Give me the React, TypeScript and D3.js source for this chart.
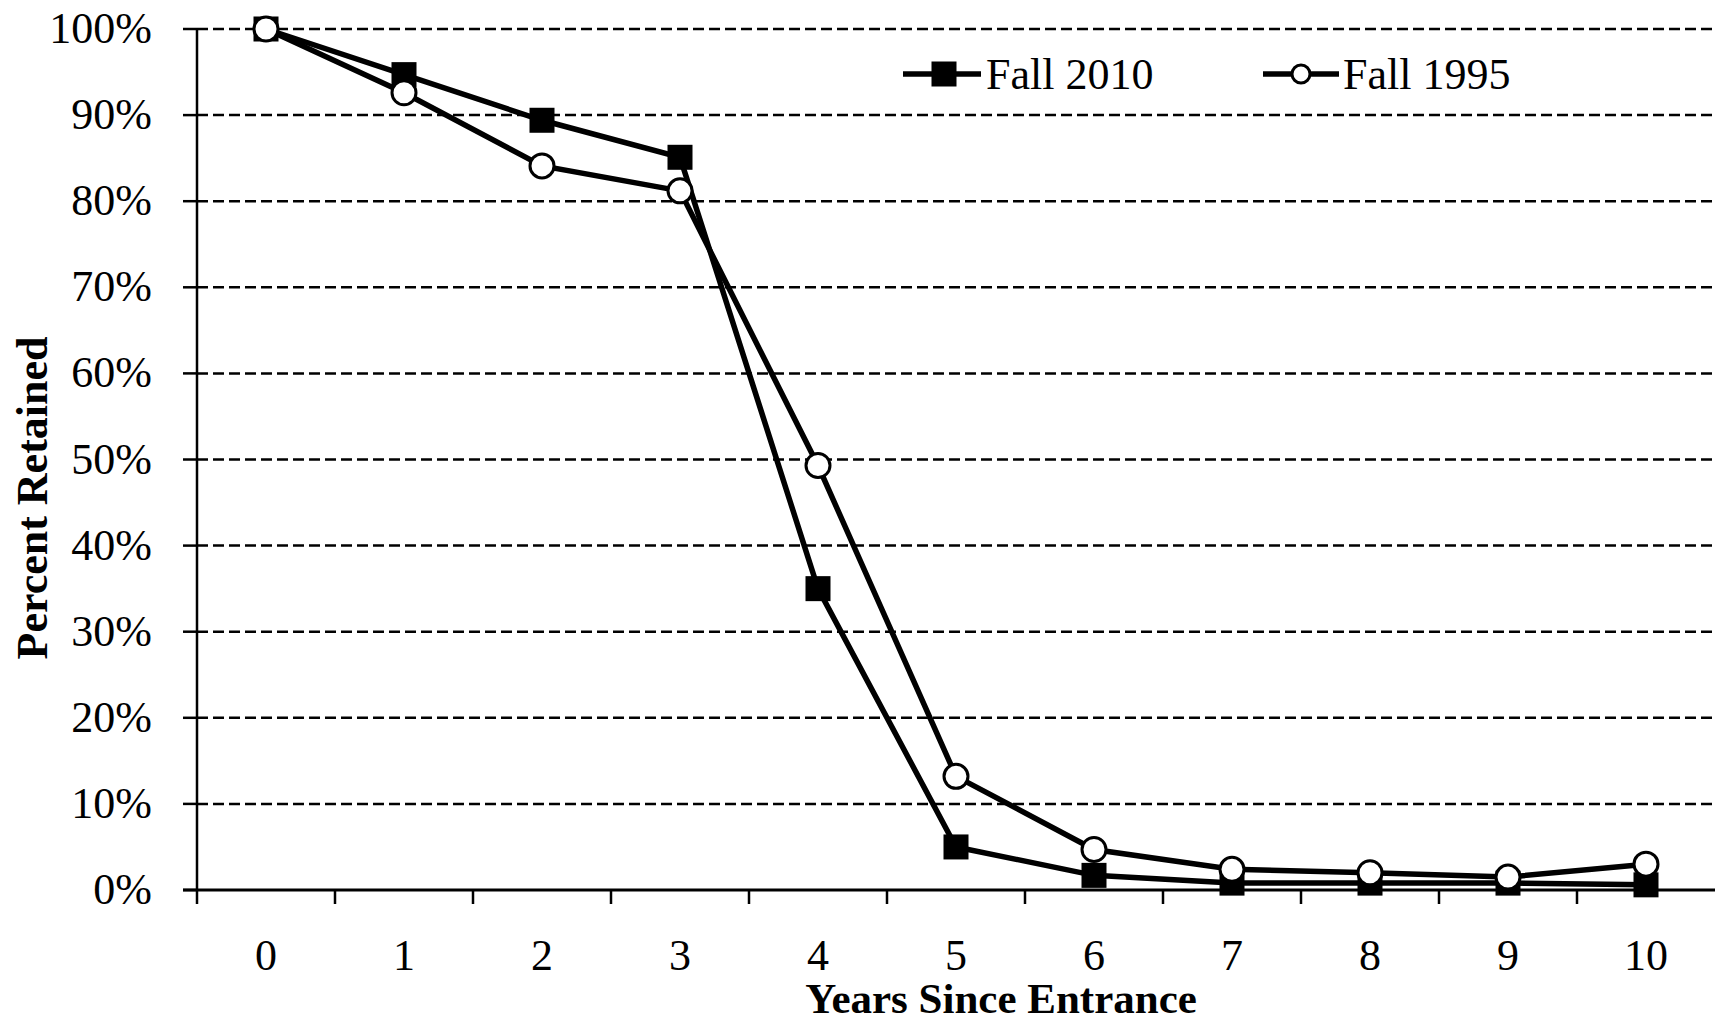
import React from "react";
import * as d3 from "d3";

const years = ["0", "1", "2", "3", "4", "5", "6", "7", "8", "9", "10"];
const fall2010 = [100, 94.7, 89.4, 85.1, 35.0, 5.0, 1.7, 0.8, 0.8, 0.8, 0.6];
const fall1995 = [100, 92.6, 84.1, 81.2, 49.3, 13.2, 4.7, 2.4, 2.0, 1.5, 3.0];
const yTicks = [0, 10, 20, 30, 40, 50, 60, 70, 80, 90, 100];

const W = 1715;
const H = 1021;
const left = 197;
const right = 1715;
const top = 29;
const bottom = 890;
const FONT = "'Liberation Serif', 'Times New Roman', serif";

export default function App() {
  const x = d3.scaleBand<string>().domain(years).range([left, right]);
  const y = d3.scaleLinear().domain([0, 100]).range([bottom, top]);
  const cx = (i: number) => (x(years[i]) as number) + x.bandwidth() / 2;
  const line = d3
    .line<number>()
    .x((_, i) => cx(i))
    .y((d) => y(d));

  return (
    <svg
      width={W}
      height={H}
      style={{ position: "fixed", left: 0, top: 0, background: "#fff" }}
      fontFamily={FONT}
    >
      <rect x={0} y={0} width={W} height={H} fill="#fff" />
      {/* gridlines */}
      {yTicks.map((t) =>
        t === 0 ? null : (
          <line
            key={"g" + t}
            x1={left}
            x2={right}
            y1={y(t)}
            y2={y(t)}
            stroke="#000"
            strokeWidth={2.5}
            strokeDasharray="11,5"
          />
        )
      )}
      {/* y ticks & labels */}
      {yTicks.map((t) => (
        <g key={"y" + t}>
          <line x1={183} x2={left} y1={y(t)} y2={y(t)} stroke="#000" strokeWidth={2.5} />
          <text x={152} y={y(t) + 14} textAnchor="end" fontSize={44} fill="#000">
            {t + "%"}
          </text>
        </g>
      ))}
      {/* y axis */}
      <line x1={left} x2={left} y1={y(100)} y2={bottom} stroke="#000" strokeWidth={2.5} />
      {/* x axis */}
      <line x1={183} x2={right} y1={bottom} y2={bottom} stroke="#000" strokeWidth={3} />
      {years.map((c) => (
        <line
          key={"xt" + c}
          x1={x(c) as number}
          x2={x(c) as number}
          y1={bottom}
          y2={bottom + 14}
          stroke="#000"
          strokeWidth={2.5}
        />
      ))}
      {years.map((c, i) => (
        <text key={"xl" + c} x={cx(i)} y={970} textAnchor="middle" fontSize={44} fill="#000">
          {c}
        </text>
      ))}
      {/* axis titles */}
      <text x={1001} y={1013} textAnchor="middle" fontSize={43} fontWeight="bold" fill="#000">
        Years Since Entrance
      </text>
      <text
        transform={`translate(47,498) rotate(-90)`}
        textAnchor="middle"
        fontSize={44}
        fontWeight="bold"
        fill="#000"
      >
        Percent Retained
      </text>
      {/* Fall 2010 series */}
      <path d={line(fall2010) || ""} fill="none" stroke="#000" strokeWidth={5.5} />
      {fall2010.map((v, i) => (
        <rect key={"s" + i} x={cx(i) - 12.5} y={y(v) - 12.5} width={25} height={25} fill="#000" />
      ))}
      {/* Fall 1995 series */}
      <path d={line(fall1995) || ""} fill="none" stroke="#000" strokeWidth={5.5} />
      {fall1995.map((v, i) => (
        <circle key={"c" + i} cx={cx(i)} cy={y(v)} r={12} fill="#fff" stroke="#000" strokeWidth={3} />
      ))}
      {/* legend */}
      <line x1={903} x2={981} y1={74} y2={74} stroke="#000" strokeWidth={5.5} />
      <rect x={944 - 12.5} y={74 - 12.5} width={25} height={25} fill="#000" />
      <text x={986} y={89} fontSize={44} fill="#000">
        Fall 2010
      </text>
      <line x1={1263} x2={1339} y1={74} y2={74} stroke="#000" strokeWidth={5.5} />
      <circle cx={1301} cy={74} r={9} fill="#fff" stroke="#000" strokeWidth={3} />
      <text x={1343} y={89} fontSize={44} fill="#000">
        Fall 1995
      </text>
    </svg>
  );
}
